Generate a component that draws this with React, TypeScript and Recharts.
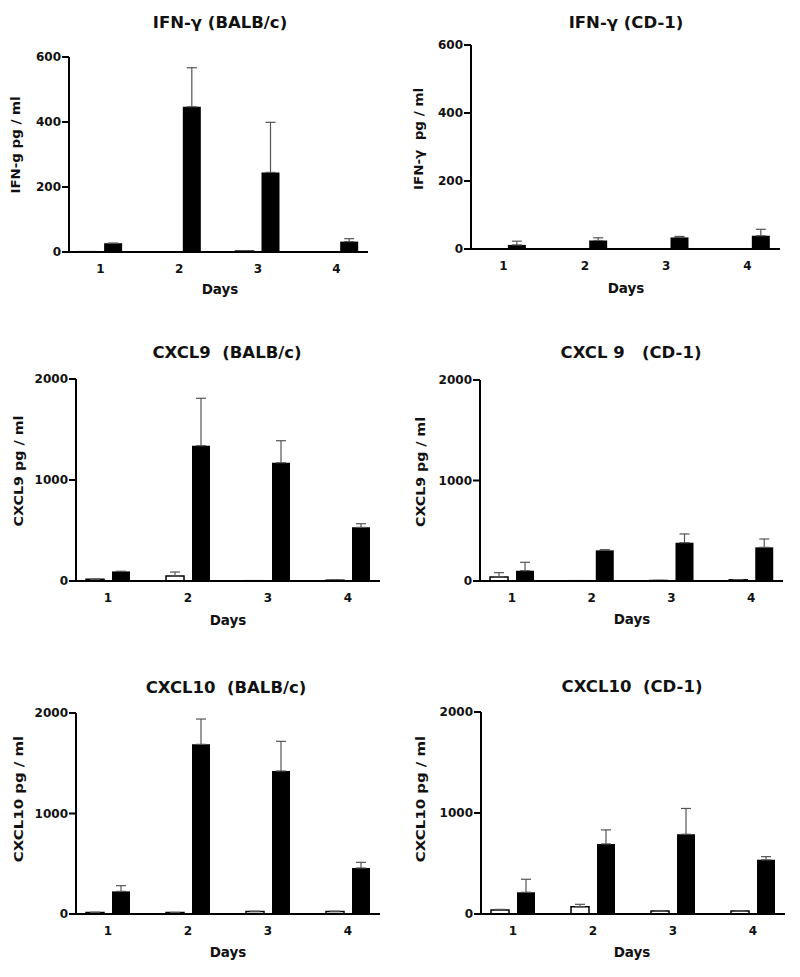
import React from 'react';
import { BarChart, Bar, XAxis, YAxis, ErrorBar } from 'recharts';

// ─── Data (pg / ml, mean + upper SEM) ─────────────────────────

const DAYS = [1, 2, 3, 4];

const IFN_BALB_CTRL = [1, 0, 3, 0];
const IFN_BALB_CTRL_ERR = [0, 0, 0, 0];
const IFN_BALB_INF = [27, 447, 245, 32];
const IFN_BALB_INF_ERR = [0, 120, 154, 9];

const IFN_CD1_CTRL = [0, 0, 0, 0];
const IFN_CD1_CTRL_ERR = [0, 0, 0, 0];
const IFN_CD1_INF = [12, 25, 34, 39];
const IFN_CD1_INF_ERR = [11, 8, 3, 19];

const CXCL9_BALB_CTRL = [17, 50, 3, 8];
const CXCL9_BALB_CTRL_ERR = [0, 39, 0, 0];
const CXCL9_BALB_INF = [95, 1340, 1171, 531];
const CXCL9_BALB_INF_ERR = [0, 469, 218, 36];

const CXCL9_CD1_CTRL = [40, 3, 5, 12];
const CXCL9_CD1_CTRL_ERR = [43, 0, 0, 0];
const CXCL9_CD1_INF = [103, 305, 381, 335];
const CXCL9_CD1_INF_ERR = [83, 7, 87, 83];

const CXCL10_BALB_CTRL = [16, 15, 26, 26];
const CXCL10_BALB_CTRL_ERR = [0, 0, 0, 0];
const CXCL10_BALB_INF = [225, 1688, 1423, 458];
const CXCL10_BALB_INF_ERR = [57, 252, 295, 56];

const CXCL10_CD1_CTRL = [40, 72, 30, 30];
const CXCL10_CD1_CTRL_ERR = [6, 24, 4, 0];
const CXCL10_CD1_INF = [215, 694, 790, 536];
const CXCL10_CD1_INF_ERR = [129, 139, 255, 32];

const TICKS_600 = [0, 200, 400, 600];
const TICKS_2000 = [0, 1000, 2000];

const rows = (ctrl: number[], ctrlErr: number[], inf: number[], infErr: number[]) =>
    DAYS.map((day, i) => ({ day, ctrl: ctrl[i], ctrlErr: ctrlErr[i], inf: inf[i], infErr: infErr[i] }));

// ─── Layout ───────────────────────────────────────────────────

const FONT = "'DejaVu Sans', Verdana, sans-serif";

interface PanelDef {
    title: string;
    titleAt: [number, number];
    yLabel: string;
    yLabelAt: [number, number];
    yLabelScale: number;
    daysAt: [number, number];
    data: ReturnType<typeof rows>;
    yMax: number;
    yTicks: number[];
    col: number;
    plot: { x0: number; x1: number; yTop: number; yBot: number };
}

const PANELS: PanelDef[] = [
    {
        title: 'IFN-γ (BALB/c)', titleAt: [220, 23],
        yLabel: 'IFN-g pg / ml', yLabelAt: [15, 145], yLabelScale: 1.03,
        daysAt: [220, 290],
        data: rows(IFN_BALB_CTRL, IFN_BALB_CTRL_ERR, IFN_BALB_INF, IFN_BALB_INF_ERR),
        yMax: 600, yTicks: TICKS_600, col: 0,
        plot: { x0: 69, x1: 368, yTop: 57, yBot: 252 },
    },
    {
        title: 'IFN-γ (CD-1)', titleAt: [626, 23],
        yLabel: 'IFN-γ  pg / ml', yLabelAt: [418, 139], yLabelScale: 1.04,
        daysAt: [626, 289],
        data: rows(IFN_CD1_CTRL, IFN_CD1_CTRL_ERR, IFN_CD1_INF, IFN_CD1_INF_ERR),
        yMax: 600, yTicks: TICKS_600, col: 400,
        plot: { x0: 471, x1: 780, yTop: 45, yBot: 249 },
    },
    {
        title: 'CXCL9  (BALB/c)', titleAt: [227, 353],
        yLabel: 'CXCL9 pg / ml', yLabelAt: [18, 471], yLabelScale: 1.1,
        daysAt: [228, 621],
        data: rows(CXCL9_BALB_CTRL, CXCL9_BALB_CTRL_ERR, CXCL9_BALB_INF, CXCL9_BALB_INF_ERR),
        yMax: 2000, yTicks: TICKS_2000, col: 0,
        plot: { x0: 76, x1: 380, yTop: 379, yBot: 581 },
    },
    {
        title: 'CXCL 9   (CD-1)', titleAt: [631, 353],
        yLabel: 'CXCL9 pg / ml', yLabelAt: [420, 472], yLabelScale: 1.09,
        daysAt: [632, 620],
        data: rows(CXCL9_CD1_CTRL, CXCL9_CD1_CTRL_ERR, CXCL9_CD1_INF, CXCL9_CD1_INF_ERR),
        yMax: 2000, yTicks: TICKS_2000, col: 400,
        plot: { x0: 480, x1: 783, yTop: 380, yBot: 581 },
    },
    {
        title: 'CXCL10  (BALB/c)', titleAt: [226, 688],
        yLabel: 'CXCL10 pg / ml', yLabelAt: [18, 799], yLabelScale: 1.15,
        daysAt: [228, 953],
        data: rows(CXCL10_BALB_CTRL, CXCL10_BALB_CTRL_ERR, CXCL10_BALB_INF, CXCL10_BALB_INF_ERR),
        yMax: 2000, yTicks: TICKS_2000, col: 0,
        plot: { x0: 76, x1: 380, yTop: 713, yBot: 914 },
    },
    {
        title: 'CXCL10  (CD-1)', titleAt: [632, 687],
        yLabel: 'CXCL10 pg / ml', yLabelAt: [420, 799], yLabelScale: 1.15,
        daysAt: [632, 953],
        data: rows(CXCL10_CD1_CTRL, CXCL10_CD1_CTRL_ERR, CXCL10_CD1_INF, CXCL10_CD1_INF_ERR),
        yMax: 2000, yTicks: TICKS_2000, col: 400,
        plot: { x0: 481, x1: 785, yTop: 712, yBot: 914 },
    },
];

// ─── Ticks ────────────────────────────────────────────────────

// eslint-disable-next-line @typescript-eslint/no-explicit-any
const YTick = ({ x, y, payload }: any) => (
    <text x={x} y={y} dy="0.36em" textAnchor="end"
        style={{ fontFamily: FONT, fontWeight: 700, fontSize: 12, fill: '#111' }}>
        {payload.value}
    </text>
);

// eslint-disable-next-line @typescript-eslint/no-explicit-any
const XTick = ({ x, y, payload }: any) => (
    <text x={x} y={y + 4} dy="0.71em" textAnchor="middle"
        style={{ fontFamily: FONT, fontWeight: 700, fontSize: 12, fill: '#111' }}>
        {payload.value}
    </text>
);

const upper = (key: 'ctrlErr' | 'infErr') => (d: Record<string, number>) => [0, d[key]];

// ─── One panel ────────────────────────────────────────────────

function Panel({ p }: { p: PanelDef }) {
    const top = p.plot.yTop - 10;
    const height = p.plot.yBot - top + 40;
    const textBase: React.CSSProperties = {
        position: 'absolute', fontFamily: FONT, fontWeight: 700, color: '#111',
        whiteSpace: 'pre', lineHeight: 1,
    };
    return (
        <>
            <div style={{ position: 'absolute', left: p.col, top, width: 400, height }}>
                <BarChart
                    width={400}
                    height={height}
                    data={p.data}
                    barGap={8}
                    margin={{ top: 10, right: p.col + 400 - p.plot.x1, bottom: 0, left: p.plot.x0 - p.col - 60 }}
                >
                    <XAxis
                        dataKey="day"
                        type="number"
                        domain={[0.6, 4.4]}
                        ticks={DAYS}
                        interval={0}
                        height={40}
                        tickLine={false}
                        axisLine={{ stroke: '#000', strokeWidth: 2 }}
                        tick={<XTick />}
                    />
                    <YAxis
                        domain={[0, p.yMax]}
                        ticks={p.yTicks}
                        interval={0}
                        width={60}
                        tickSize={7}
                        tickMargin={1}
                        tickLine={{ stroke: '#000', strokeWidth: 2 }}
                        axisLine={{ stroke: '#000', strokeWidth: 2 }}
                        tick={<YTick />}
                    />
                    <Bar dataKey="ctrl" barSize={18} fill="#fff" stroke="#000" strokeWidth={1.5} isAnimationActive={false}>
                        <ErrorBar dataKey={upper('ctrlErr')} direction="y" width={5} stroke="#555" strokeWidth={1.2} />
                    </Bar>
                    <Bar dataKey="inf" barSize={18} fill="#000" isAnimationActive={false}>
                        <ErrorBar dataKey={upper('infErr')} direction="y" width={5} stroke="#555" strokeWidth={1.2} />
                    </Bar>
                </BarChart>
            </div>
            <div style={{ ...textBase, left: p.titleAt[0], top: p.titleAt[1], fontSize: 16.5, transform: 'translate(-50%,-50%)' }}>
                {p.title}
            </div>
            <div style={{ ...textBase, left: p.yLabelAt[0], top: p.yLabelAt[1], fontSize: 13, transform: `translate(-50%,-50%) rotate(-90deg) scaleX(${p.yLabelScale})` }}>
                {p.yLabel}
            </div>
            <div style={{ ...textBase, left: p.daysAt[0], top: p.daysAt[1], fontSize: 13.5, transform: 'translate(-50%,-50%)' }}>
                Days
            </div>
        </>
    );
}

export default function App() {
    return (
        <div style={{ position: 'absolute', left: 0, top: 0, width: 800, height: 977, background: '#fff', overflow: 'hidden' }}>
            {PANELS.map((p) => (
                <Panel key={p.title} p={p} />
            ))}
        </div>
    );
}
